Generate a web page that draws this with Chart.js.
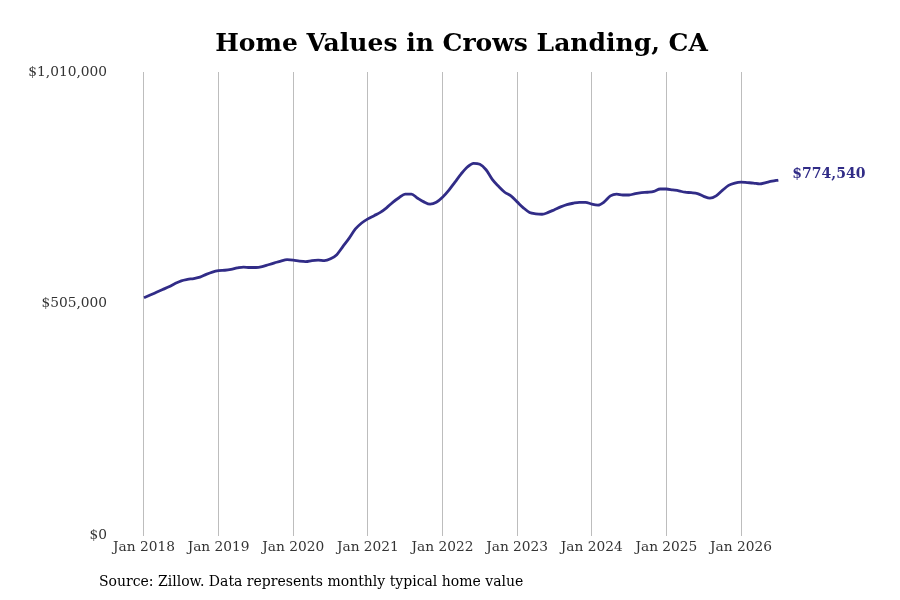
<!DOCTYPE html>
<html>
<head>
<meta charset="utf-8">
<script src="https://cdn.jsdelivr.net/npm/chart.js@4"></script>
<style>
  html, body { margin: 0; padding: 0; background: #ffffff; }
  #wrap { width: 900px; height: 600px; position: relative; }
</style>
</head>
<body>
<div id="wrap"><canvas id="chart" width="900" height="600"></canvas></div>
<script>
// ---- Data (monthly typical home value, Jan 2018 .. Jul 2026) ----
const startYear = 2018;
const startMonth = 0; // January
const homeValues = [
  // 2018
  518000, 524000, 530000, 536000, 542000, 549000, 555000, 558000, 560000, 563000, 569000, 574000,
  // 2019
  577000, 578000, 580000, 583000, 585000, 584000, 584000, 586000, 590000, 594000, 598000, 601000,
  // 2020
  600000, 598000, 597000, 599000, 600000, 599000, 603000, 612000, 630000, 648000, 668000, 681000,
  // 2021
  690000, 697000, 704000, 714000, 726000, 736000, 744000, 744000, 735000, 727000, 722000, 726000,
  // 2022
  737000, 752000, 770000, 788000, 803000, 811000, 809000, 797000, 776000, 761000, 748000, 740000,
  // 2023
  727000, 714000, 704000, 701000, 700000, 704000, 710000, 716000, 721000, 724000, 726000, 726000,
  // 2024
  722000, 720000, 727000, 740000, 744000, 742000, 742000, 745000, 747000, 748000, 750000, 755000,
  // 2025
  755000, 753000, 751000, 748000, 747000, 745000, 739000, 735000, 740000, 752000, 763000, 768000,
  // 2026
  770000, 769000, 768000, 766000, 769000, 772000, 774540
];
const xTickMonths = [0, 12, 24, 36, 48, 60, 72, 84, 96];
const xTickLabels = ["Jan 2018", "Jan 2019", "Jan 2020", "Jan 2021", "Jan 2022", "Jan 2023", "Jan 2024", "Jan 2025", "Jan 2026"];
const yTickValues = [0, 505000, 1010000];
const yTickLabels = ["$0", "$505,000", "$1,010,000"];
const lastLabel = "$774,540";
const titleText = "Home Values in Crows Landing, CA";
const sourceText = "Source: Zillow. Data represents monthly typical home value";

const LINE_COLOR = "#312c87";
const SERIF = "'DejaVu Serif', serif";

const points = homeValues.map((v, i) => ({ x: i, y: v }));

const annotationsPlugin = {
  id: 'annotations',
  afterDatasetsDraw(chart) {
    const meta = chart.getDatasetMeta(0);
    const last = meta.data[meta.data.length - 1];
    const ctx = chart.ctx;
    ctx.save();
    if (last) {
      ctx.font = "bold 14px " + SERIF;
      ctx.fillStyle = LINE_COLOR;
      ctx.textAlign = 'left';
      ctx.textBaseline = 'middle';
      ctx.fillText(lastLabel, last.x + 14, last.y - 6);
    }
    // source note
    ctx.font = "14px " + SERIF;
    ctx.fillStyle = "#000000";
    ctx.textAlign = 'left';
    ctx.textBaseline = 'middle';
    ctx.fillText(sourceText, 99, 582);
    ctx.restore();
  }
};

new Chart(document.getElementById('chart'), {
  type: 'line',
  data: {
    datasets: [{
      data: points,
      borderColor: LINE_COLOR,
      borderWidth: 2.8,
      pointRadius: 0,
      fill: false,
      tension: 0.4,
      cubicInterpolationMode: 'monotone'
    }]
  },
  options: {
    responsive: false,
    animation: false,
    devicePixelRatio: 1,
    layout: { padding: { left: 15, right: 92, top: 0, bottom: 40 } },
    plugins: {
      legend: { display: false },
      tooltip: { enabled: false },
      title: {
        display: true,
        text: titleText,
        fullSize: false,
        color: "#000000",
        font: { family: SERIF, size: 25, weight: 'bold' },
        padding: { top: 29, bottom: 13 }
      }
    },
    scales: {
      x: {
        type: 'linear',
        min: -4.663,
        max: 106.77,
        afterBuildTicks: axis => { axis.ticks = xTickMonths.map(v => ({ value: v })); },
        ticks: {
          autoSkip: false,
          maxRotation: 0,
          padding: 4,
          color: "#333333",
          font: { family: SERIF, size: 13.75 },
          callback: (value) => {
            const idx = xTickMonths.indexOf(value);
            return idx >= 0 ? xTickLabels[idx] : '';
          }
        },
        grid: { display: true, color: "#bdbdbd", lineWidth: 1, drawTicks: false },
        border: { display: false }
      },
      y: {
        min: 0,
        max: 1010000,
        afterBuildTicks: axis => { axis.ticks = yTickValues.map(v => ({ value: v })); },
        afterFit: axis => { axis.width = 100; },
        ticks: {
          padding: 8,
          color: "#333333",
          font: { family: SERIF, size: 13.75 },
          callback: (value) => {
            const idx = yTickValues.indexOf(value);
            return idx >= 0 ? yTickLabels[idx] : '';
          }
        },
        grid: { display: false, drawTicks: false },
        border: { display: false }
      }
    }
  },
  plugins: [annotationsPlugin]
});
</script>
</body>
</html>
